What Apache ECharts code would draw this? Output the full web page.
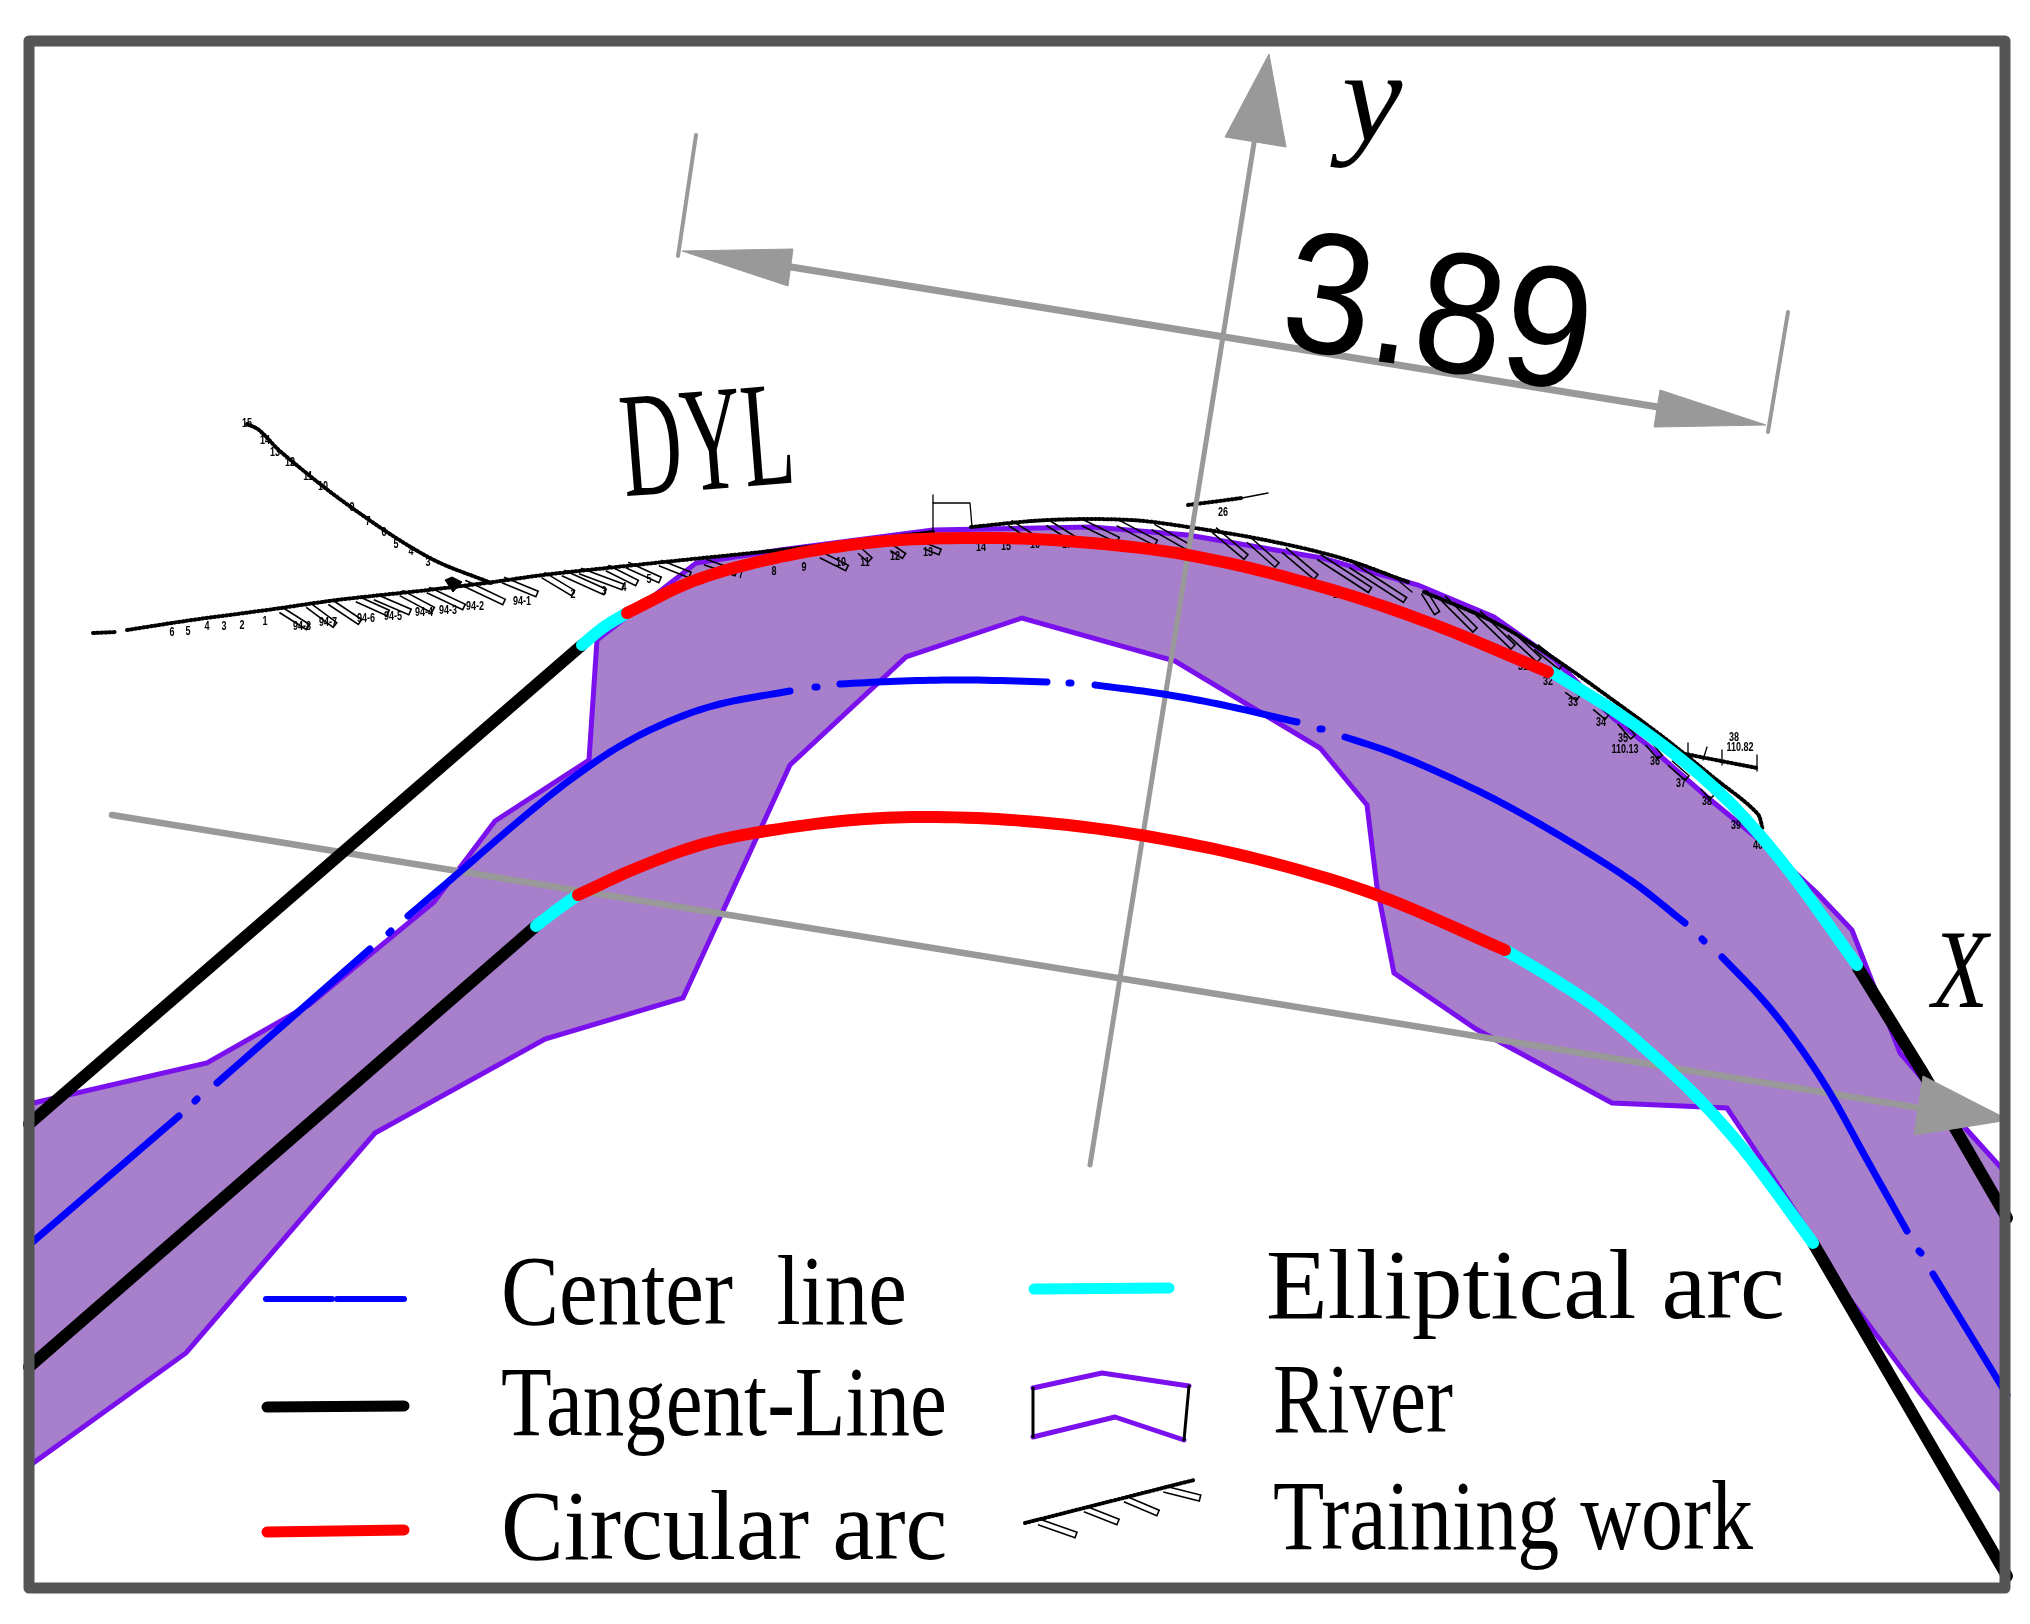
<!DOCTYPE html>
<html>
<head>
<meta charset="utf-8">
<title>River training alignment</title>
<script src="https://cdn.jsdelivr.net/npm/echarts@6/dist/echarts.min.js"></script>
<style>
html, body { margin: 0; padding: 0; background: #fff; }
#main { width: 2030px; height: 1624px; }
</style>
</head>
<body>
<div id="main"></div>
<script>
var frame = [[29, 41], [2005, 41], [2005, 1588], [29, 1588], [29, 41]];

var river = [[29, 1104], [207, 1063], [309, 1005], [434, 902], [495, 821], [589, 760], [597, 640], [696, 563],
  [780, 550], [933, 530], [1092, 527], [1188, 535], [1322, 558], [1418, 585], [1494, 617], [1555, 660], [1613, 718],
  [1650, 747], [1707, 797], [1763, 843], [1817, 893], [1852, 930], [1900, 1053], [1967, 1130], [2005, 1172],
  [2005, 1495], [1920, 1393], [1848, 1297], [1827, 1260], [1763, 1162], [1727, 1108], [1612, 1103], [1476, 1029],
  [1394, 973], [1377, 887], [1367, 805], [1320, 748], [1175, 661], [1022, 618], [906, 657], [790, 765], [683, 998],
  [545, 1039], [375, 1133], [186, 1353], [29, 1466]];

var centerLine = [
  [[29, 1245], [179, 1116]], [[195, 1101], [197, 1099]],
  [[217, 1083], [370, 949]], [[389, 933], [391, 931]],
  [[408, 916], [462, 870], [520, 820], [570, 780], [620, 746], [670, 721], [720, 704], [790, 691]], [[815, 687], [817, 687]],
  [[840, 684], [903, 681], [970, 680], [1047, 682]], [[1069, 683], [1071, 683]],
  [[1095, 685], [1163, 694], [1223, 705], [1297, 722]], [[1320, 729], [1322, 729]],
  [[1345, 737], [1390, 752], [1440, 773], [1500, 802], [1567, 840], [1633, 882], [1685, 923]], [[1702, 939], [1704, 941]],
  [[1722, 957], [1763, 1000], [1797, 1043], [1830, 1093], [1866, 1158], [1907, 1231]], [[1919, 1251], [1921, 1253]],
  [[1933, 1274], [2007, 1395]]
];

var tangentLines = [
  [[29, 1124], [582, 645]],
  [[1858, 968], [1923, 1073], [2007, 1218]],
  [[29, 1367], [536, 926]],
  [[1813, 1243], [2007, 1576]]
];
var ellipticalArcs = [
  [[582, 645], [604, 627], [627, 613]],
  [[1553, 673], [1610, 708], [1660, 743], [1700, 775], [1740, 813], [1790, 872], [1857, 965]],
  [[536, 926], [558, 909], [578, 895]],
  [[1505, 950], [1547, 975], [1597, 1008], [1647, 1050], [1697, 1097], [1740, 1145], [1773, 1188], [1813, 1243]]
];
var circularArcs = [
  [[627, 613], [696, 580], [780, 557], [876, 542], [971, 538], [1067, 541], [1188, 555], [1322, 587], [1430, 623], [1548, 672]],
  [[578, 895], [637, 868], [700, 845], [760, 832], [853, 820], [937, 817], [1037, 822], [1140, 835], [1257, 859], [1377, 895], [1505, 950]]
];

var trainingBank = [
  [[93, 633], [116, 632]],
  [[127, 630], [192, 620], [267, 610], [337, 600], [428, 590], [493, 582], [543, 575], [607, 568], [683, 560], [780, 550], [933, 532]],
  [[971, 527], [1048, 520], [1131, 520], [1188, 527], [1265, 540], [1341, 558], [1408, 582]],
  [[1424, 592], [1494, 622], [1552, 657], [1617, 703], [1667, 740], [1713, 777], [1757, 813], [1763, 830]],
  [[247, 424], [259, 430], [281, 452], [348, 505], [428, 557], [491, 583]],
  [[1188, 505], [1242, 498]],
  [[1680, 753], [1757, 768]]
];
var trainingThin = [
  [[933, 532], [933, 495]], [[933, 503], [970, 503], [972, 527]],
  [[1242, 498], [1268, 493]],
  [[1400, 582], [1412, 592]],
  [[1688, 743], [1688, 760]], [[1707, 747], [1703, 760]], [[1722, 750], [1722, 765]], [[1757, 755], [1757, 771]]
];
var groynes = [
  [281, 610, 308, 627], [308, 605, 335, 625], [330, 602, 360, 622], [357, 599, 388, 613], [375, 597, 410, 612],
  [401, 593, 433, 610], [428, 590, 464, 607], [464, 583, 504, 602], [503, 580, 537, 594], [543, 575, 573, 593],
  [563, 573, 605, 592], [580, 571, 623, 587], [607, 568, 637, 583], [627, 565, 660, 580], [660, 563, 690, 575], [705, 562, 736, 573],
  [821, 555, 847, 568], [860, 551, 870, 560], [892, 548, 904, 556], [925, 546, 940, 552],
  [1010, 523, 1032, 537], [1048, 523, 1080, 543], [1083, 523, 1118, 540], [1118, 523, 1156, 543], [1153, 527, 1188, 547],
  [1214, 530, 1246, 557], [1249, 540, 1277, 565], [1284, 550, 1316, 577], [1319, 557, 1370, 590], [1351, 565, 1405, 600],
  [1424, 592, 1437, 613], [1443, 598, 1475, 630], [1478, 613, 1513, 647], [1510, 633, 1539, 660], [1536, 647, 1561, 667],
  [1567, 690, 1578, 698], [1595, 707, 1607, 717], [1620, 722, 1633, 737], [1648, 743, 1660, 757], [1670, 763, 1687, 778], [1703, 787, 1712, 797]
];
var bankBlob = [[445, 580], [452, 577], [462, 582], [453, 592]];
var stationLabels = [
  [247, 424, '15'], [265, 441, '14'], [275, 453, '13'], [290, 463, '12'], [308, 477, '11'], [323, 487, '10'],
  [352, 508, '9'], [368, 522, '7'], [384, 533, '6'], [396, 545, '5'], [411, 552, '4'], [428, 563, '3'],
  [172, 633, '6'], [188, 632, '5'], [207, 627, '4'], [224, 627, '3'], [242, 626, '2'], [265, 622, '1'],
  [302, 627, '94-8'], [328, 623, '94-7'], [366, 619, '94-6'], [393, 617, '94-5'], [424, 613, '94-4'], [448, 611, '94-3'],
  [475, 607, '94-2'], [522, 602, '94-1'], [573, 595, '2'], [604, 592, '3'], [624, 588, '4'], [649, 580, '5'],
  [741, 575, '7'], [774, 572, '8'], [804, 568, '9'], [841, 563, '10'], [865, 563, '11'], [895, 557, '12'],
  [928, 553, '13'], [981, 548, '14'], [1006, 547, '15'], [1035, 545, '16'], [1067, 545, '17'], [1223, 513, '26'],
  [1338, 595, '1#'], [1489, 648, '29'], [1523, 667, '31'], [1548, 682, '32'], [1573, 703, '33'], [1601, 723, '34'],
  [1623, 739, '35'], [1625, 750, '110.13'], [1655, 762, '36'], [1681, 784, '37'], [1707, 802, '38'], [1736, 826, '39'],
  [1758, 846, '40'], [1734, 738, '38'], [1740, 748, '110.82']
];

var axisX = [[112, 815], [1920, 1108]];
var axisXHead = [[2009, 1120], [1923, 1076], [1914, 1135]];
var axisY = [[1090, 1165], [1254, 143]];
var axisYHead = [[1269, 54], [1225, 137], [1286, 147]];
var dimLine = [[791, 267], [1658, 407]];
var dimHeadLeft = [[682, 251], [793, 249], [788, 286]];
var dimHeadRight = [[1766, 425], [1660, 390], [1654, 427]];
var dimTicks = [[[696, 135], [678, 256]], [[1788, 312], [1768, 432]]];

var legendCenter = [[[266, 1299], [332, 1299]], [[337, 1299], [404, 1299]]];
var legendTangent = [[267, 1407], [404, 1406]];
var legendCircular = [[267, 1532], [404, 1530]];
var legendElliptical = [[1034, 1289], [1169, 1288]];
var legendRiverTop = [[1033, 1388], [1102, 1373], [1189, 1386]];
var legendRiverBottom = [[1033, 1437], [1115, 1417], [1184, 1440]];
var legendRiverSides = [[[1033, 1388], [1033, 1437]], [[1189, 1386], [1184, 1440]]];
var legendBank = [[1025, 1523], [1194, 1480]];
var legendGroynes = [[1039, 1522, 1076, 1535], [1085, 1509, 1118, 1522], [1125, 1499, 1158, 1513], [1164, 1489, 1200, 1498]];

var series = [];

function dist(a, b) {
  return Math.sqrt((a[0] - b[0]) * (a[0] - b[0]) + (a[1] - b[1]) * (a[1] - b[1])) || 1;
}

// hermite through the read points with chord length tangents, they are not evenly spaced
function spline(pts) {
  if (pts.length < 3) return pts;
  var out = [];
  for (var i = 0; i < pts.length - 1; i++) {
    var p0 = pts[Math.max(i - 1, 0)], p1 = pts[i], p2 = pts[i + 1], p3 = pts[Math.min(i + 2, pts.length - 1)];
    var len = dist(p1, p2);
    var s1 = len / (dist(p0, p1) * (p0 === p1 ? 0 : 1) + len);
    var s2 = len / (len + dist(p2, p3) * (p2 === p3 ? 0 : 1));
    for (var k = 0; k < 10; k++) {
      var t = k / 10, t2 = t * t, t3 = t2 * t;
      out.push([0, 1].map(function (d) {
        var m1 = (p2[d] - p0[d]) * s1, m2 = (p3[d] - p1[d]) * s2;
        return (2 * t3 - 3 * t2 + 1) * p1[d] + (t3 - 2 * t2 + t) * m1 + (3 * t2 - 2 * t3) * p2[d] + (t3 - t2) * m2;
      }));
    }
  }
  out.push(pts[pts.length - 1]);
  return out;
}

function addLine(points, color, width, z, smooth, dash) {
  series.push({
    type: 'custom',
    coordinateSystem: 'cartesian2d',
    data: points,
    encode: { x: 0, y: 1 },
    silent: true,
    z: z,
    renderItem: function (params, api) {
      if (params.dataIndex > 0) return null;
      var px = points.map(function (p) { return api.coord(p); });
      return {
        type: 'polyline',
        shape: { points: smooth ? spline(px) : px },
        style: { fill: 'none', stroke: color, lineWidth: width, lineCap: 'round', lineJoin: 'round', lineDash: dash || null }
      };
    }
  });
}

function addPolygon(points, fill, stroke, width, z) {
  series.push({
    type: 'custom',
    coordinateSystem: 'cartesian2d',
    data: points,
    encode: { x: 0, y: 1 },
    silent: true,
    z: z,
    renderItem: function (params, api) {
      if (params.dataIndex > 0) return null;
      return {
        type: 'polygon',
        shape: { points: points.map(function (p) { return api.coord(p); }) },
        style: { fill: fill, stroke: stroke, lineWidth: width, lineJoin: 'miter' }
      };
    }
  });
}

function addText(text, x, y, font, opts) {
  opts = opts || {};
  series.push({
    type: 'custom',
    coordinateSystem: 'cartesian2d',
    data: [[x, y]],
    encode: { x: 0, y: 1 },
    silent: true,
    z: 20,
    renderItem: function (params, api) {
      var c = api.coord([x, y]);
      return {
        type: 'text',
        x: c[0],
        y: c[1],
        rotation: opts.rotation || 0,
        scaleX: opts.scaleX || 1,
        scaleY: opts.scaleY || 1,
        style: {
          text: text,
          fill: '#000',
          font: font,
          align: opts.align || 'left',
          verticalAlign: 'middle'
        }
      };
    }
  });
}

function addGroynes(rows, half, z) {
  series.push({
    type: 'custom',
    coordinateSystem: 'cartesian2d',
    data: rows,
    encode: { x: [0, 2], y: [1, 3] },
    silent: true,
    z: z,
    renderItem: function (params, api) {
      var a = api.coord([api.value(0), api.value(1)]);
      var b = api.coord([api.value(2), api.value(3)]);
      var dx = b[0] - a[0], dy = b[1] - a[1];
      var len = Math.sqrt(dx * dx + dy * dy) || 1;
      var nx = -dy / len * half, ny = dx / len * half;
      return {
        type: 'polyline',
        shape: { points: [[a[0] - nx, a[1] - ny], [b[0] - nx, b[1] - ny], [b[0] + nx, b[1] + ny], [a[0] + nx, a[1] + ny]] },
        style: { fill: 'none', stroke: '#000', lineWidth: 1.6 }
      };
    }
  });
}

// river
addPolygon(river, '#a77fcb', '#7a10ee', 5, 1);

// training work
trainingBank.forEach(function (p) {
  addLine(p, '#000', 1, 2, true);
  addLine(p, '#000', 4, 2, true, [1.5, 2.5]);
});
trainingThin.forEach(function (p) { addLine(p, '#000', 1.3, 2); });
addGroynes(groynes, 3, 2);
addPolygon(bankBlob, '#000', '#000', 1, 2);
series.push({
  type: 'custom',
  coordinateSystem: 'cartesian2d',
  data: stationLabels,
  encode: { x: 0, y: 1 },
  silent: true,
  z: 3,
  renderItem: function (params, api) {
    var c = api.coord([api.value(0), api.value(1)]);
    return {
      type: 'text',
      x: c[0],
      y: c[1],
      scaleX: 0.75,
      style: { text: stationLabels[params.dataIndex][2], fill: '#000', font: 'bold 12px "Liberation Sans"', align: 'center', verticalAlign: 'middle' }
    };
  }
});

// gray axes, under the curves
addLine(axisX, '#999', 6.5, 3);
addLine(axisY, '#999', 5, 3);
addLine(dimLine, '#999', 7, 3);
dimTicks.forEach(function (p) { addLine(p, '#999', 4, 3); });

// curves
tangentLines.forEach(function (p) { addLine(p, '#000', 12, 5); });
ellipticalArcs.forEach(function (p) { addLine(p, '#00ffff', 12, 6, true); });
circularArcs.forEach(function (p) { addLine(p, '#ff0000', 12, 6, true); });
centerLine.forEach(function (p) { addLine(p, '#0000ff', 7, 7, true); });

addPolygon(axisXHead, '#999', '#999', 1, 8);
addPolygon(axisYHead, '#999', '#999', 1, 8);
addPolygon(dimHeadLeft, '#999', '#999', 1, 8);
addPolygon(dimHeadRight, '#999', '#999', 1, 8);

// frame on top of everything that runs off the edge
addLine(frame, '#555', 11, 9);

// legend keys
legendCenter.forEach(function (p) { addLine(p, '#0000ff', 6, 10); });
addLine(legendTangent, '#000', 11, 10);
addLine(legendCircular, '#ff0000', 11, 10);
addLine(legendElliptical, '#00ffff', 11, 10);
addLine(legendRiverTop, '#7a10ee', 5, 10);
addLine(legendRiverBottom, '#7a10ee', 5, 10);
legendRiverSides.forEach(function (p) { addLine(p, '#000', 3, 10); });
addLine(legendBank, '#000', 1, 10);
addLine(legendBank, '#000', 4, 10, false, [1.5, 2.5]);
addGroynes(legendGroynes, 3, 10);

// labels
var SERIF = '"Liberation Serif"';
addText('Center  line', 501, 1298, '100px ' + SERIF, { scaleX: 0.87 });
addText('Tangent-Line', 501, 1409, '100px ' + SERIF, { scaleX: 0.83 });
addText('Circular arc', 501, 1533, '100px ' + SERIF, { scaleX: 0.94 });
addText('Elliptical arc', 1266, 1292, '100px ' + SERIF, { scaleX: 1.01 });
addText('River', 1273, 1406, '100px ' + SERIF, { scaleX: 0.81 });
addText('Training work', 1273, 1523, '100px ' + SERIF, { scaleX: 0.84 });
addText('DYL', 708, 450, '150px ' + SERIF, { align: 'center', scaleX: 0.56, rotation: 0.08 });
addText('3.89', 1437, 322, '150px "Liberation Sans"', { align: 'center', rotation: -0.148, scaleX: 1.06, scaleY: 1.15 });
addText('y', 1372, 106, 'italic 130px ' + SERIF, { align: 'center', scaleX: 1.05 });
addText('X', 1960, 978, 'italic 112px ' + SERIF, { align: 'center', scaleX: 0.82 });

var myChart = echarts.init(document.getElementById('main'));
myChart.setOption({
  animation: false,
  backgroundColor: '#fff',
  grid: { left: 0, right: 0, top: 0, bottom: 0 },
  xAxis: { type: 'value', min: 0, max: 2030, show: false },
  yAxis: { type: 'value', min: 0, max: 1624, inverse: true, show: false },
  series: series
});
window.onresize = myChart.resize;
</script>
</body>
</html>
